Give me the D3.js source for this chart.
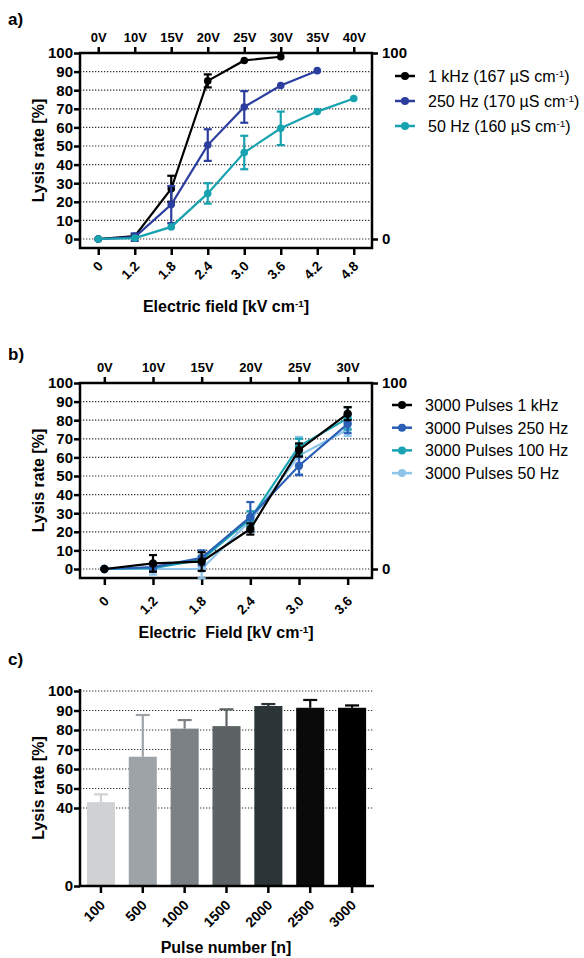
<!DOCTYPE html>
<html><head><meta charset="utf-8">
<script src="https://cdn.jsdelivr.net/npm/d3@7"></script>
<style>
body{margin:0;background:#fff;}
svg text{font-family:"Liberation Sans",Arial,sans-serif;white-space:pre;}
</style></head>
<body><svg id="c" width="584" height="958"></svg>
<script>
// ---------- DATA ----------
const fieldA = ["0","1.2","1.8","2.4","3.0","3.6","4.2","4.8"];
const voltsA = ["0V","10V","15V","20V","25V","30V","35V","40V"];
const a1kHz = [0,1.5,27,85,96,98,null,null];
const a1kHzErr = [0,1,7,3.5,0,0,0,0];
const a250Hz = [0,1,18.5,50.5,71,82.5,90.5,null];
const a250HzErr = [0,2,10,8.5,8.5,0,0,0];
const a50Hz = [0,0.5,6.5,24.5,46.5,59.5,68.5,75.5];
const a50HzErr = [0,0,0,5.5,9,9,0,0];
const legendA = ["1 kHz (167 µS cm","250 Hz (170 µS cm","50 Hz (160 µS cm"];

const fieldB = ["0","1.2","1.8","2.4","3.0","3.6"];
const voltsB = ["0V","10V","15V","20V","25V","30V"];
const b1kHz = [0,3,4,21.5,64,83.5];
const b1kHzErr = [0,4.5,5,3,3.5,3.5];
const b250Hz = [0,1,6,28,55.5,78];
const b250HzErr = [0,2,4,8,5,5];
const b100Hz = [0,0.5,5,27,66,81];
const b100HzErr = [0,1,2,4,4,6];
const b50Hz = [0,0,0,26,61,75];
const b50HzErr = [0,3,5,5,10,3.5];
const legendB = ["3000 Pulses 1 kHz","3000 Pulses 250 Hz","3000 Pulses 100 Hz","3000 Pulses 50 Hz"];

const pulses = ["100","500","1000","1500","2000","2500","3000"];
const lysisC = [43,66.3,80.7,82,92.3,91.4,91.4];
const lysisCErr = [4,21.4,4.4,8.6,1,4,1.2];

const yTicksLine = [0,10,20,30,40,50,60,70,80,90,100];
const yTicksBar = [0,40,50,60,70,80,90,100];

// ---------- STYLE ----------
const colA = ["#000000","#2b3d9e","#17a2b0"];
const colB = ["#000000","#2a5fb5","#1aa3b3","#8ec3ea"];
const colC = ["#cfd1d3","#9ea3a7","#7b8184","#5d6365","#2b3538","#0a0a0a","#000000"];

const svg = d3.select("#c");
const AXW = 2.5;

function supText(sel, main, sup, tail){
  sel.append("tspan").text(main);
  sel.append("tspan").attr("font-size","0.62em").attr("dy","-0.55em").text(sup);
  sel.append("tspan").attr("dy","0.34em").text(tail);
}

function linePanel(o){
  const g = svg.append("g");
  const x = d3.scalePoint().domain(o.cats).range([80,372]).padding(0.5);
  const y = d3.scaleLinear().domain([0,100]).range([o.y0,o.yTop]);
  g.selectAll("line.grid").data(yTicksLine.filter(d=>d<100)).join("line")
    .attr("x1",80).attr("x2",372).attr("y1",d=>y(d)).attr("y2",d=>y(d))
    .attr("stroke","#333").attr("stroke-width",1.2).attr("stroke-dasharray","1.3,1.7");
  const la = g.append("g").attr("transform","translate(80,0)")
    .call(d3.axisLeft(y).tickValues(yTicksLine).tickSize(6).tickPadding(1).tickSizeOuter(0));
  la.select(".domain").remove();
  la.selectAll("line").attr("stroke-width",AXW);
  la.selectAll("text").attr("font-size",15).attr("font-weight","bold").attr("fill","#000");
  const ra = g.append("g").attr("transform","translate(372,0)")
    .call(d3.axisRight(y).tickValues([0,100]).tickSize(6).tickPadding(4).tickSizeOuter(0));
  ra.select(".domain").remove();
  ra.selectAll("line").attr("stroke-width",AXW);
  ra.selectAll("text").attr("font-size",15).attr("font-weight","bold").attr("fill","#000");
  const ta = g.append("g").attr("transform",`translate(0,${o.yTop})`)
    .call(d3.axisTop(x).tickFormat((d,i)=>o.volts[i]).tickSize(6).tickPadding(5).tickSizeOuter(0));
  ta.select(".domain").remove();
  ta.selectAll("line").attr("stroke-width",AXW);
  ta.selectAll("text").attr("font-size",13).attr("font-weight","bold").attr("fill","#000");
  const ba = g.append("g").attr("transform",`translate(0,${o.yBot})`)
    .call(d3.axisBottom(x).tickSize(7).tickSizeOuter(0));
  ba.select(".domain").remove();
  ba.selectAll("line").attr("stroke-width",AXW);
  ba.selectAll("text").attr("font-size",13.5).attr("font-weight","bold").attr("fill","#000")
    .attr("text-anchor","end").attr("y",0).attr("dy",0)
    .attr("transform",`translate(5,${o.lblOff}) rotate(-45)`);
  g.append("path").attr("d",`M80,${o.yTop}H372V${o.yBot}H80Z`)
    .attr("fill","none").attr("stroke","#000").attr("stroke-width",AXW).attr("stroke-linejoin","miter");
  o.series.forEach((s,k)=>{
    const pts = s.v.map((v,i)=>({x:x(o.cats[i]),v,e:s.e[i]})).filter(p=>p.v!==null);
    const sg = g.append("g");
    sg.append("path").datum(pts)
      .attr("d",d3.line().x(p=>p.x).y(p=>y(p.v)))
      .attr("fill","none").attr("stroke",s.c).attr("stroke-width",2.2);
    const eb = sg.selectAll("g.eb").data(pts.filter(p=>p.e>0)).join("g");
    eb.append("line").attr("x1",p=>p.x).attr("x2",p=>p.x)
      .attr("y1",p=>y(p.v-p.e)).attr("y2",p=>y(p.v+p.e)).attr("stroke",s.c).attr("stroke-width",2.2);
    [1,-1].forEach(sg2=>{
      eb.append("line").attr("x1",p=>p.x-4).attr("x2",p=>p.x+4)
        .attr("y1",p=>y(p.v+sg2*p.e)).attr("y2",p=>y(p.v+sg2*p.e)).attr("stroke",s.c).attr("stroke-width",2.2);
    });
    sg.selectAll("circle").data(pts).join("circle")
      .attr("cx",p=>p.x).attr("cy",p=>y(p.v)).attr("r",o.r).attr("fill",s.c);
  });
  o.legend.forEach((t,i)=>{
    const ly = o.legY + i*o.legDy;
    g.append("line").attr("x1",o.legX).attr("x2",o.legX+20).attr("y1",ly).attr("y2",ly)
      .attr("stroke",o.legCol[i]).attr("stroke-width",2.5);
    g.append("circle").attr("cx",o.legX+10).attr("cy",ly).attr("r",4).attr("fill",o.legCol[i]);
    const tx = g.append("text").attr("x",o.legX+33).attr("y",ly+6).attr("font-size",16).attr("fill","#000");
    if(o.legSup) supText(tx,t,"-1",")"); else tx.text(t);
  });
  g.append("text").attr("transform",`translate(44,${(o.yTop+o.yBot)/2}) rotate(-90)`)
    .attr("text-anchor","middle").attr("font-size",16).attr("font-weight","bold").text("Lysis rate [%]");
  const xt = g.append("text").attr("x",226).attr("y",o.xtY).attr("text-anchor","middle")
    .attr("font-size",16).attr("font-weight","bold");
  supText(xt,o.xTitle,"-1","]");
  svg.append("text").attr("x",8).attr("y",o.labY).attr("font-size",17).attr("font-weight","bold").text(o.lab);
}

linePanel({cats:fieldA, volts:voltsA, yTop:53, y0:239, yBot:248, lblOff:19, r:3.8,
  series:[{v:a1kHz,e:a1kHzErr,c:colA[0]},{v:a250Hz,e:a250HzErr,c:colA[1]},{v:a50Hz,e:a50HzErr,c:colA[2]}],
  legend:legendA, legCol:colA, legX:395, legY:76, legDy:25, legSup:true,
  xTitle:"Electric field [kV cm", xtY:312, lab:"a)", labY:25});

linePanel({cats:fieldB, volts:voltsB, yTop:383, y0:569, yBot:578, lblOff:24, r:4.2,
  series:[{v:b50Hz,e:b50HzErr,c:colB[3]},{v:b100Hz,e:b100HzErr,c:colB[2]},{v:b250Hz,e:b250HzErr,c:colB[1]},{v:b1kHz,e:b1kHzErr,c:colB[0]}],
  legend:legendB, legCol:colB, legX:392, legY:405, legDy:22.7, legSup:false,
  xTitle:"Electric  Field [kV cm", xtY:638, lab:"b)", labY:360});

// ---------- PANEL C ----------
(function(){
  const g = svg.append("g");
  const x = d3.scaleBand().domain(pulses).range([80,373]).paddingInner(0.33).paddingOuter(0.165);
  const y = d3.scaleLinear().domain([0,100]).range([886,691]);
  g.selectAll("line.grid").data(yTicksBar.filter(d=>d>0)).join("line")
    .attr("x1",80).attr("x2",373).attr("y1",d=>y(d)).attr("y2",d=>y(d))
    .attr("stroke","#333").attr("stroke-width",1.2).attr("stroke-dasharray","1.3,1.7");
  const eb = g.selectAll("g.bar").data(pulses).join("g");
  eb.append("line").attr("x1",d=>x(d)+x.bandwidth()/2).attr("x2",d=>x(d)+x.bandwidth()/2)
    .attr("y1",(d,i)=>y(lysisC[i])).attr("y2",(d,i)=>y(lysisC[i]+lysisCErr[i]))
    .attr("stroke",(d,i)=>colC[i]).attr("stroke-width",2.2);
  eb.append("line").attr("x1",d=>x(d)+x.bandwidth()/2-7).attr("x2",d=>x(d)+x.bandwidth()/2+7)
    .attr("y1",(d,i)=>y(lysisC[i]+lysisCErr[i])).attr("y2",(d,i)=>y(lysisC[i]+lysisCErr[i]))
    .attr("stroke",(d,i)=>colC[i]).attr("stroke-width",2.2);
  eb.append("rect").attr("x",d=>x(d)).attr("width",x.bandwidth())
    .attr("y",(d,i)=>y(lysisC[i])).attr("height",(d,i)=>886-y(lysisC[i]))
    .attr("fill",(d,i)=>colC[i]);
  const la = g.append("g").attr("transform","translate(80,0)")
    .call(d3.axisLeft(y).tickValues(yTicksBar).tickSize(6).tickPadding(1).tickSizeOuter(0));
  la.select(".domain").remove();
  la.selectAll("line").attr("stroke-width",AXW);
  la.selectAll("text").attr("font-size",15).attr("font-weight","bold").attr("fill","#000");
  const ba = g.append("g").attr("transform","translate(0,886)")
    .call(d3.axisBottom(x).tickSize(7).tickSizeOuter(0));
  ba.select(".domain").remove();
  ba.selectAll("line").attr("stroke-width",AXW);
  ba.selectAll("text").attr("font-size",14).attr("font-weight","bold").attr("fill","#000")
    .attr("text-anchor","end").attr("y",0).attr("dy",0)
    .attr("transform","translate(5,20) rotate(-45)");
  g.append("path").attr("d","M80,689V886H374").attr("fill","none").attr("stroke","#000").attr("stroke-width",AXW);
  g.append("text").attr("transform","translate(44,788) rotate(-90)")
    .attr("text-anchor","middle").attr("font-size",16).attr("font-weight","bold").text("Lysis rate [%]");
  g.append("text").attr("x",226).attr("y",953).attr("text-anchor","middle")
    .attr("font-size",16).attr("font-weight","bold").text("Pulse number [n]");
  svg.append("text").attr("x",8).attr("y",665).attr("font-size",17).attr("font-weight","bold").text("c)");
})();
</script></body></html>
